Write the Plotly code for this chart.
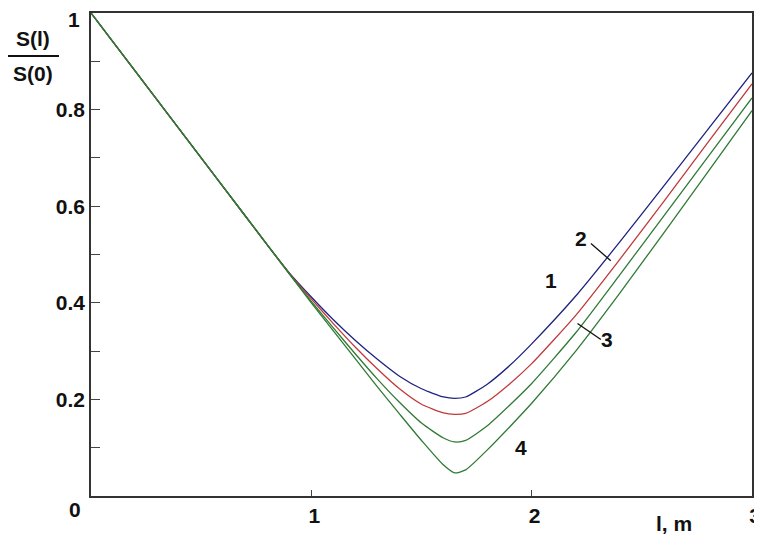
import plotly.graph_objects as go

# values
x_vals = [0, 0.2, 0.4, 0.6, 0.8, 0.9, 1.0, 1.1, 1.2, 1.3, 1.4, 1.5, 1.6, 1.65,
          1.7, 1.8, 1.9, 2.0, 2.2, 2.4, 2.6, 2.8, 3.0]
curve_1 = [1.0, 0.88, 0.76, 0.64, 0.52, 0.462, 0.412, 0.365, 0.322, 0.283, 0.248,
           0.222, 0.205, 0.202, 0.205, 0.232, 0.270, 0.315, 0.414, 0.526, 0.642,
           0.759, 0.876]
curve_2 = [1.0, 0.88, 0.76, 0.64, 0.52, 0.461, 0.408, 0.357, 0.308, 0.263, 0.222,
           0.190, 0.172, 0.169, 0.171, 0.196, 0.232, 0.274, 0.374, 0.490, 0.610,
           0.732, 0.853]
curve_3 = [1.0, 0.88, 0.76, 0.64, 0.52, 0.460, 0.403, 0.348, 0.294, 0.242, 0.194,
           0.151, 0.120, 0.112, 0.115, 0.146, 0.188, 0.233, 0.338, 0.458, 0.580,
           0.702, 0.824]
curve_4 = [1.0, 0.88, 0.76, 0.64, 0.52, 0.460, 0.400, 0.342, 0.284, 0.226, 0.170,
           0.115, 0.064, 0.048, 0.054, 0.096, 0.143, 0.192, 0.300, 0.420, 0.545,
           0.671, 0.798]

curve_names = ['1', '2', '3', '4']
curve_colors = ['#1f2280', '#c0393b', '#2f7a34', '#2f7a34']

y_tick_vals = [0.1, 0.2, 0.3, 0.4, 0.5, 0.6, 0.7, 0.8, 0.9, 1.0]
y_tick_text = ['', '0.2', '', '0.4', '', '0.6', '', '0.8', '', '']
x_tick_vals = [1, 2, 3]
x_tick_text = ['1', '2', '3']

FONT = 'Liberation Sans, Arial, sans-serif'
TXT = dict(family=FONT, size=21, color='#111', weight='bold')

# the page body has an 8px margin, so the figure sits at (8, 8) in the window
OFF = 8
W, H = 746, 528
L, R, T, B = 83, 2, 5, 40
plot_w = W - L - R
plot_h = H - T - B


def px_x(px):
    # window pixel -> paper x
    return (px - OFF - L) / plot_w


def px_y(py):
    # window pixel -> paper y
    return (H - B - (py - OFF)) / plot_h


fig = go.Figure()
for name, ys, col in zip(curve_names, [curve_1, curve_2, curve_3, curve_4], curve_colors):
    fig.add_trace(go.Scatter(
        x=x_vals, y=ys, mode='lines', name=name,
        line=dict(color=col, width=1.3, shape='spline', smoothing=0.6),
        showlegend=False,
    ))

# curve numbers
labels = [('1', 2.087, 0.447), ('2', 2.223, 0.533), ('3', 2.344, 0.323), ('4', 1.951, 0.101)]
for txt, lx, ly in labels:
    fig.add_annotation(x=lx, y=ly, text=txt, showarrow=False, font=TXT,
                       xanchor='center', yanchor='middle')

# leader lines for 2 and 3
fig.add_shape(type='line', x0=2.269, y0=0.523, x1=2.359, y1=0.487,
              line=dict(color='#111', width=1.3))
fig.add_shape(type='line', x0=2.208, y0=0.357, x1=2.314, y1=0.324,
              line=dict(color='#111', width=1.3))

# origin label, top y label, axis titles (window pixel positions)
for txt, px, py in [('0', 75, 510), ('1', 74, 19), ('l, m', 674, 523),
                    ('S(l)', 33, 38), ('S(0)', 33, 73)]:
    fig.add_annotation(x=px_x(px), y=px_y(py), xref='paper', yref='paper',
                       text=txt, showarrow=False, font=TXT,
                       xanchor='center', yanchor='middle')
fig.add_shape(type='line', xref='paper', yref='paper',
              x0=px_x(8), x1=px_x(59), y0=px_y(56), y1=px_y(56),
              line=dict(color='#111', width=2.2))

axis_common = dict(ticks='inside', tickcolor='#444', showgrid=False, zeroline=False,
                   showline=True, linecolor='#333', linewidth=1.5, mirror=True,
                   automargin=False, tickfont=TXT, ticklabeloverflow='allow')
fig.update_layout(
    width=W, height=H,
    margin=dict(l=L, r=R, t=T, b=B),
    paper_bgcolor='white', plot_bgcolor='white',
    font=dict(family=FONT, size=21, color='#111'),
    xaxis=dict(range=[0, 3], tickvals=x_tick_vals, ticktext=x_tick_text, ticklen=6,
               ticklabelshift=3, **axis_common),
    yaxis=dict(range=[0, 1], tickvals=y_tick_vals, ticktext=y_tick_text, ticklen=9,
               **axis_common),
)

fig.write_html("out.html")
